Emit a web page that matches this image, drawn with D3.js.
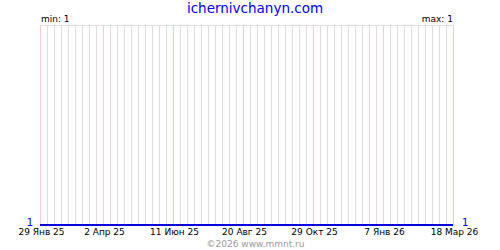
<!DOCTYPE html>
<html>
<head>
<meta charset="utf-8">
<script src="https://cdn.jsdelivr.net/npm/d3@7"></script>
<style>
  body { margin: 0; background: #fff; }
  svg { display: block; font-family: "DejaVu Sans", Verdana, sans-serif; }
</style>
</head>
<body>
<svg id="chart" width="500" height="250"></svg>
<script>
// series: date -> value (flat at 1 over the whole period)
const dates = ['2025-01-29', '2025-04-02', '2025-06-11', '2025-08-20', '2025-10-29', '2026-01-07', '2026-03-18'];
const values = [1, 1, 1, 1, 1, 1, 1];
const tickDates = ['2025-01-29', '2025-04-02', '2025-06-11', '2025-08-20', '2025-10-29', '2026-01-07', '2026-03-18'];
const monthNames = ['Янв', 'Фев', 'Мар', 'Апр', 'Май', 'Июн', 'Июл', 'Авг', 'Сен', 'Окт', 'Ноя', 'Дек'];

const title = 'ichernivchanyn.com';
const footer = '©2026 www.mmnt.ru';

const parse = d3.utcParse('%Y-%m-%d');
const points = dates.map((d, i) => ({ date: parse(d), value: values[i] }));
const ticks = tickDates.map(parse);

const plotLeft = 40, plotRight = 453, plotTop = 25, plotBottom = 225;

const svg = d3.select('#chart');

const x = d3.scaleUtc()
  .domain([parse(dates[0]), parse(dates[dates.length - 1])])
  .range([plotLeft, plotRight]);

const minVal = d3.min(values);
const maxVal = d3.max(values);
const y = d3.scaleLinear()
  .domain([minVal, maxVal === minVal ? maxVal + 1 : maxVal])
  .range([plotBottom, plotTop]);

const px = (v) => Math.round(v) + 0.5;

// weekly grid
const weeks = d3.utcWednesday.range(x.domain()[0], d3.utcDay.offset(x.domain()[1], 1));
svg.append('g')
  .selectAll('line')
  .data(weeks)
  .join('line')
  .attr('x1', (d) => px(x(d)))
  .attr('x2', (d) => px(x(d)))
  .attr('y1', plotTop)
  .attr('y2', plotBottom)
  .attr('stroke', '#dddddd');

// top border
svg.append('line')
  .attr('x1', plotLeft).attr('x2', plotRight + 1)
  .attr('y1', plotTop + 0.5).attr('y2', plotTop + 0.5)
  .attr('stroke', '#dddddd');

// label grid lines
svg.append('g')
  .selectAll('line')
  .data(ticks)
  .join('line')
  .attr('x1', (d) => px(x(d)))
  .attr('x2', (d) => px(x(d)))
  .attr('y1', plotTop)
  .attr('y2', plotBottom)
  .attr('stroke', '#ffc8c8');

// series line
const line = d3.line()
  .x((d) => x(d.date))
  .y((d) => y(d.value));

svg.append('path')
  .datum(points)
  .attr('d', line)
  .attr('fill', 'none')
  .attr('stroke', '#0000dd')
  .attr('stroke-width', 2);

// x axis labels
const fmt = (d) => `${d.getUTCDate()} ${monthNames[d.getUTCMonth()]} ${String(d.getUTCFullYear()).slice(2)}`;
const axis = d3.axisBottom(x)
  .tickValues(ticks)
  .tickFormat(fmt)
  .tickSize(0)
  .tickPadding(0);

const gAxis = svg.append('g')
  .attr('transform', `translate(1, ${plotBottom + 4})`)
  .call(axis);
gAxis.select('.domain').remove();
gAxis.selectAll('text')
  .attr('dy', '0.71em')
  .attr('fill', '#000')
  .style('font-family', '"DejaVu Sans", Verdana, sans-serif')
  .style('font-size', '9px');

// end values
svg.append('text')
  .attr('x', plotLeft - 7).attr('y', y(values[0]) + 1)
  .attr('text-anchor', 'end')
  .attr('fill', '#0000ff')
  .style('font-size', '10px')
  .text(values[0]);

svg.append('text')
  .attr('x', plotRight + 9).attr('y', y(values[values.length - 1]) + 1)
  .attr('fill', '#0000ff')
  .style('font-size', '10px')
  .text(values[values.length - 1]);

// min / max
svg.append('text')
  .attr('x', plotLeft + 1).attr('y', 22)
  .style('font-size', '9px')
  .text(`min: ${minVal}`);

svg.append('text')
  .attr('x', plotRight).attr('y', 22)
  .attr('text-anchor', 'end')
  .style('font-size', '9px')
  .text(`max: ${maxVal}`);

// title
svg.append('text')
  .attr('x', 255).attr('y', 12.5)
  .attr('text-anchor', 'middle')
  .attr('fill', '#0000ff')
  .style('font-size', '13.5px')
  .text(title);

// footer
svg.append('text')
  .attr('x', 255.5).attr('y', 247)
  .attr('text-anchor', 'middle')
  .attr('fill', '#999999')
  .style('font-size', '9px')
  .text(footer);
</script>
</body>
</html>
